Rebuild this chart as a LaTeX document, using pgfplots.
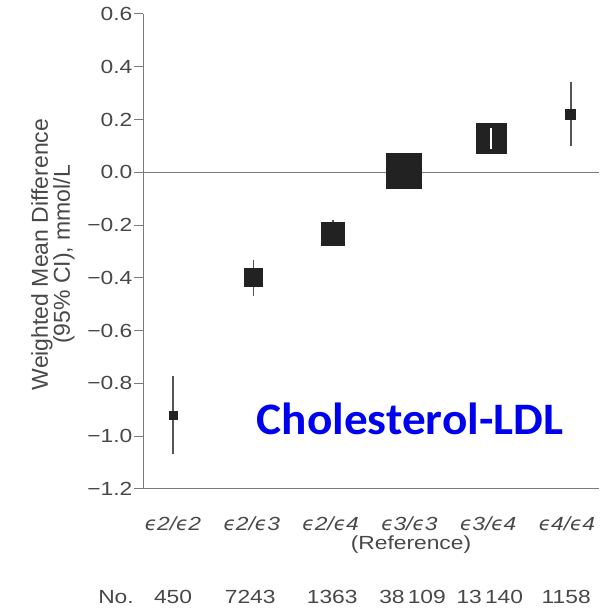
\documentclass[border=0pt]{standalone}
\usepackage{pgfplots}
\pgfplotsset{compat=1.18}
\usepackage{fontspec}
\setmainfont{Liberation Sans}
\newfontfamily\tickfont{Liberation Sans}[FakeStretch=1.2]
\newfontfamily\epsfont{DejaVu Sans}[FakeStretch=1.05]
\newfontfamily\calfont{Carlito}[FakeStretch=1.05]
\definecolor{txt}{HTML}{484848}
\definecolor{axc}{HTML}{7A7A7A}
\definecolor{sq}{HTML}{222222}
\definecolor{ci}{HTML}{555555}
\newcommand\e{{\epsfont\itshape ϵ}}
\tikzset{numlab/.style={anchor=base, font=\tickfont\fontsize{19}{19}\selectfont, text=txt}}
\begin{document}
\begin{tikzpicture}
\useasboundingbox (0,0) rectangle (603pt,608pt);
\begin{axis}[
  at={(143pt,119pt)}, anchor=south west,
  scale only axis, width=456pt, height=475pt,
  xmin=-0.381, xmax=5.406, ymin=-1.2, ymax=0.6,
  axis x line*=bottom, axis y line*=left,
  axis line style={axc, line width=1pt, -},
  clip=false, clip marker paths=true,
  ytick={-1.2,-1.0,-0.8,-0.6,-0.4,-0.2,0,0.2,0.4,0.6},
  yticklabels={−1.2,−1.0,−0.8,−0.6,−0.4,−0.2,0.0,0.2,0.4,0.6},
  xtick={0,1,2,3,4,5},
  xticklabels={\e2/\e2,\e2/\e3,\e2/\e4,\e3/\e3,\e3/\e4,\e4/\e4},
  tick align=outside,
  ytick style={axc, line width=1pt},
  xtick style={draw=none},
  major tick length=9pt,
  yticklabel style={font=\tickfont\fontsize{19}{19}\selectfont, text=txt, inner sep=1.5pt},
  xticklabel style={font=\tickfont\itshape\fontsize{19}{19}\selectfont, text=txt, anchor=base, yshift=-32pt, inner sep=0pt},
]
% zero line
\addplot[axc, line width=1pt] coordinates {(-0.381,0) (5.406,0)};
% confidence intervals
\addplot[ci, line width=1.3pt] coordinates {(0,-0.773) (0,-1.068)};
\addplot[ci, line width=1.3pt] coordinates {(1.02,-0.333) (1.02,-0.47)};
\addplot[ci, line width=1.3pt] coordinates {(2.03,-0.18) (2.03,-0.28)};
\addplot[ci, line width=1.3pt] coordinates {(5.05,0.341) (5.05,0.099)};
% squares (size ~ weight)
\addplot[only marks, mark=square*, mark size=4pt, mark options={fill=sq, draw=sq, line width=0pt}] coordinates {(0,-0.92)};
\addplot[only marks, mark=square*, mark size=9pt, mark options={fill=sq, draw=sq, line width=0pt}] coordinates {(1.02,-0.40)};
\addplot[only marks, mark=square*, mark size=11.5pt, mark options={fill=sq, draw=sq, line width=0pt}] coordinates {(2.03,-0.232)};
\addplot[only marks, mark=square*, mark size=17.5pt, mark options={fill=sq, draw=sq, line width=0pt}] coordinates {(2.93,0.005)};
\addplot[only marks, mark=square*, mark size=15.2pt, mark options={fill=sq, draw=sq, line width=0pt}] coordinates {(4.04,0.128)};
\addplot[only marks, mark=square*, mark size=5pt, mark options={fill=sq, draw=sq, line width=0pt}] coordinates {(5.05,0.22)};
% CI inside the e3/e4 square
\addplot[white, line width=1.8pt] coordinates {(4.04,0.167) (4.04,0.087)};
% below-axis text
\node[numlab] at (axis cs:3.02,-1.2) [yshift=-60pt] {(Reference)};
\node[numlab] at (axis cs:0,-1.2) [yshift=-114pt] {450};
\node[numlab] at (axis cs:0.98,-1.2) [yshift=-114pt] {7243};
\node[numlab] at (axis cs:2.02,-1.2) [yshift=-114pt] {1363};
\node[numlab] at (axis cs:3.04,-1.2) [yshift=-114pt] {38\,109};
\node[numlab] at (axis cs:4.02,-1.2) [yshift=-114pt] {13\,140};
\node[numlab] at (axis cs:4.99,-1.2) [yshift=-114pt] {1158};
\end{axis}
\node[numlab] at (116pt,5pt) {No.};
\node[rotate=90, align=center, font=\fontsize{23}{22}\selectfont, text=txt] at (53pt,353.5pt) {Weighted Mean Difference\\(95\% CI), mmol/L};
\node[anchor=base, font=\calfont\bfseries\fontsize{45}{45}\selectfont, text={rgb,255:red,0;green,0;blue,240}] at (410pt,173pt) {Cholesterol-LDL};
\end{tikzpicture}
\end{document}
